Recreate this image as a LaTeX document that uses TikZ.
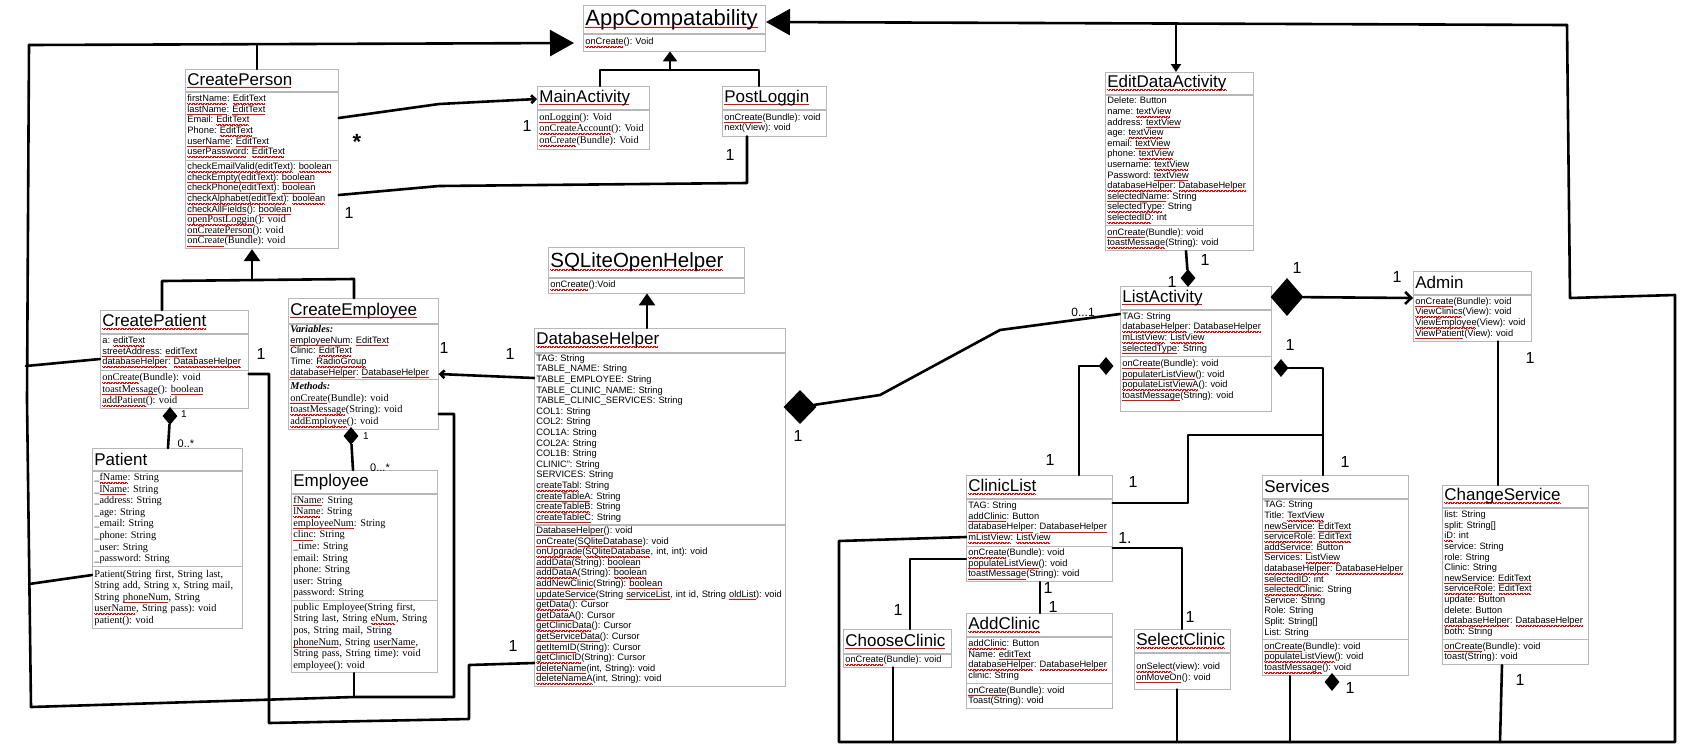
\documentclass[tikz,border=0pt]{standalone}
\usepackage{fontspec}
\setmainfont{Liberation Sans}
\newfontfamily\tms{Liberation Serif}
\usepackage{xcolor}
\usetikzlibrary{positioning}
\usetikzlibrary{shapes.geometric}
\usetikzlibrary{arrows.meta}
\frenchspacing
% red spell-check marks under words
\newsavebox\sqbox
\newcommand\sq[1]{\leavevmode\sbox\sqbox{#1}\rlap{\textcolor{red}{\hbox to \wd\sqbox{\leaders\hbox to 1.4pt{\rule[-2.0pt]{0.7pt}{0.45pt}\rule[-2.5pt]{0.7pt}{0.45pt}}\hfill}}}\usebox\sqbox}
\newcommand\tm[1]{{\tms\fontsize{10.3}{10.6}\selectfont #1}}

\begin{document}
\begin{tikzpicture}[x=1pt,y=-1pt]
	\tikzstyle{ttl}=[draw=black!28,fill=white,line width=0.7pt,anchor=north west,align=left,inner xsep=2pt,inner ysep=0pt,font=\fontsize{17}{18}\selectfont]
	\tikzstyle{prt}=[draw=black!28,fill=white,line width=0.7pt,align=left,inner xsep=2pt,inner ysep=1.5pt,font=\fontsize{9.3}{10.6}\selectfont]
	\tikzstyle{tprt}=[prt,font=\tms\fontsize{10.3}{11.6}\selectfont]
	\tikzstyle{wire}=[line width=2.6pt,line cap=round,line join=round]
	\tikzstyle{dmd}=[diamond,fill=black,inner sep=0pt,minimum width=15pt,minimum height=18pt]
	\tikzstyle{bigdmd}=[dmd,minimum width=33pt,minimum height=38pt]
	\tikzstyle{num}=[font=\fontsize{16}{16}\selectfont,inner sep=0pt]
	\useasboundingbox[fill=white] (0,0) rectangle (1700,748);

	% top classes
	\node[ttl,text width=178pt,minimum height=28pt,font=\fontsize{22}{23}\selectfont] (appT) at (583,5) {\sq{AppCompatability}};
	\node[prt,text width=178pt,minimum height=17pt,below=0pt of appT] (appM) {\sq{onCreate}(): Void};

	\node[ttl,text width=108pt,minimum height=23pt] (mainT) at (537,86) {\sq{MainActivity}};
	\node[tprt,text width=108pt,minimum height=39pt,below=0pt of mainT] (mainM) {\sq{onLoggin}(): Void\\\sq{onCreateAccount}(): Void\\\sq{onCreate}(Bundle): Void};

	\node[ttl,text width=100pt,minimum height=23pt] (postT) at (722,86) {\sq{PostLoggin}};
	\node[prt,text width=100pt,minimum height=26pt,below=0pt of postT] (postM) {\sq{onCreate}(Bundle): void\\next(View): void};

	\node[ttl,text width=149pt,minimum height=22pt] (cperT) at (185,69) {\sq{CreatePerson}};
	\node[prt,text width=149pt,minimum height=68pt,below=0pt of cperT] (cperA) {\sq{firstName}: \sq{EditText}\\\sq{lastName}: \sq{EditText}\\Email: \sq{EditText}\\Phone: \sq{EditText}\\\sq{userName}: \sq{EditText}\\\sq{userPassword}: \sq{EditText}};
	\node[prt,text width=149pt,minimum height=88pt,below=0pt of cperA] (cperM) {\sq{checkEmailValid(editText)}: \sq{boolean}\\\sq{checkEmpty(editText)}: \sq{boolean}\\\sq{checkPhone(editText)}: \sq{boolean}\\\sq{checkAlphabet(editText)}: \sq{boolean}\\\sq{checkAllFields}(): \sq{boolean}\\\tm{\sq{openPostLoggin}(): void}\\\tm{\sq{onCreatePerson}(): void}\\\tm{\sq{onCreate}(Bundle): void}};

	% left classes
	\node[ttl,text width=144pt,minimum height=23pt] (cpatT) at (100,310) {\sq{CreatePatient}};
	\node[prt,text width=144pt,minimum height=36pt,below=0pt of cpatT] (cpatA) {a: \sq{editText}\\\sq{streetAddress}: \sq{editText}\\\sq{databaseHelper}: \sq{DatabaseHelper}};
	\node[tprt,text width=144pt,minimum height=38pt,below=0pt of cpatA] (cpatM) {\sq{onCreate}(Bundle): void\\\sq{toastMessage}(): \sq{boolean}\\\sq{addPatient}(): void};

	\node[ttl,text width=146pt,minimum height=25pt] (cempT) at (288,298) {\sq{CreateEmployee}};
	\node[prt,text width=146pt,minimum height=55pt,below=0pt of cempT] (cempA) {{\tms\bfseries\itshape\fontsize{10.3}{10.6}\selectfont Variables:}\\\sq{employeeNum}: \sq{EditText}\\Clinic: \sq{EditText}\\Time: \sq{RadioGroup}\\\sq{databaseHelper}: \sq{DatabaseHelper}};
	\node[tprt,text width=146pt,minimum height=50pt,below=0pt of cempA] (cempM) {\textbf{\textit{Methods:}}\\\sq{onCreate}(Bundle): void\\\sq{toastMessage}(String): void\\\sq{addEmployee}(): void};

	\node[ttl,text width=146pt,minimum height=22pt] (patT) at (92,448) {Patient};
	\node[tprt,text width=146pt,minimum height=95pt,below=0pt of patT] (patA) {\_\sq{fName}: String\\\_\sq{lName}: String\\\_address: String\\\_age: String\\\_email: String\\\_phone: String\\\_user: String\\\_password: String};
	\node[tprt,text width=146pt,minimum height=62pt,below=0pt of patA] (patM) {Patient(String first, String last,\\String add, String x, String mail,\\String \sq{phoneNum}, String\\\sq{userName}, String pass): void\\patient(): void};

	\node[ttl,text width=142pt,minimum height=23pt] (empT) at (291,470) {Employee};
	\node[tprt,text width=142pt,minimum height=106pt,below=0pt of empT] (empA) {\sq{fName}: String\\\sq{lName}: String\\\sq{employeeNum}: String\\\sq{clinc}: String\\\_time: String\\email: String\\phone: String\\user: String\\password: String};
	\node[tprt,text width=142pt,minimum height=72pt,below=0pt of empA] (empM) {public Employee(String first,\\String last, String \sq{eNum}, String\\pos, String mail, String\\\sq{phoneNum}, String \sq{userName},\\String pass, String time): void\\employee(): void};

	% database
	\node[ttl,text width=192pt,minimum height=30pt,font=\fontsize{20.5}{21}\selectfont] (sqlT) at (548,247) {\sq{SQLiteOpenHelper}};
	\node[prt,text width=192pt,minimum height=15pt,below=0pt of sqlT] (sqlM) {\sq{onCreate}():Void};

	\node[ttl,text width=247pt,minimum height=24pt] (dbhT) at (534,328) {\sq{DatabaseHelper}};
	\node[prt,text width=247pt,minimum height=171pt,below=0pt of dbhT] (dbhA) {TAG: String\\TABLE\_NAME: String\\TABLE\_EMPLOYEE: String\\TABLE\_CLINIC\_NAME: String\\TABLE\_CLINIC\_SERVICES: String\\COL1: String\\COL2: String\\COL1A: String\\COL2A: String\\COL1B: String\\CLINIC": String\\SERVICES: String\\\sq{createTabl}: String\\\sq{createTableA}: String\\\sq{createTableB}: String\\\sq{createTableC}: String};
	\node[prt,text width=247pt,minimum height=161pt,below=0pt of dbhA] (dbhM) {\sq{DatabaseHelper}(): void\\\sq{onCreate}(\sq{SQliteDatabase}): void\\\sq{onUpgrade}(\sq{SQliteDatabase}, int, int): void\\\sq{addData}(String): \sq{boolean}\\\sq{addDataA}(String): \sq{boolean}\\\sq{addNewClinic}(String): \sq{boolean}\\\sq{updateService}(String \sq{serviceList}, int id, String \sq{oldList}): void\\\sq{getData}(): Cursor\\\sq{getDataA}(): Cursor\\\sq{getClinicData}(): Cursor\\\sq{getServiceData}(): Cursor\\\sq{getItemID}(String): Cursor\\\sq{getClinicID}(String): Cursor\\\sq{deleteName}(int, String): void\\\sq{deleteNameA}(int, String): void};

	% right classes
	\node[ttl,text width=144pt,minimum height=22pt] (editT) at (1105,72) {\sq{EditDataActivity}};
	\node[prt,text width=144pt,minimum height=130pt,below=0pt of editT] (editA) {Delete: Button\\name: \sq{textView}\\address: \sq{textView}\\age: \sq{textView}\\email: \sq{textView}\\phone: \sq{textView}\\username: \sq{textView}\\Password: \sq{textView}\\\sq{databaseHelper}: \sq{DatabaseHelper}\\\sq{selectedName}: String\\\sq{selectedType}: String\\\sq{selectedID}: int};
	\node[prt,text width=144pt,minimum height=25pt,below=0pt of editA] (editM) {\sq{onCreate}(Bundle): void\\\sq{toastMessage}(String): void};

	\node[ttl,text width=147pt,minimum height=23pt] (listT) at (1120,286) {\sq{ListActivity}};
	\node[prt,text width=147pt,minimum height=46pt,below=0pt of listT] (listA) {TAG: String\\\sq{databaseHelper}: \sq{DatabaseHelper}\\\sq{mListView}: \sq{ListView}\\\sq{selectedType}: String};
	\node[prt,text width=147pt,minimum height=55pt,below=0pt of listA] (listM) {\sq{onCreate}(Bundle): void\\\sq{populaterListView}(): void\\\sq{populateListViewA}(): void\\\sq{toastMessage}(String): void\\\mbox{}};

	\node[ttl,text width=114pt,minimum height=23pt] (admT) at (1413,271) {Admin};
	\node[prt,text width=114pt,minimum height=46pt,below=0pt of admT] (admM) {\sq{onCreate}(Bundle): void\\\sq{ViewClinics}(View): void\\\sq{ViewEmployee}(View): void\\\sq{ViewPatient}(View): void};

	\node[ttl,text width=142pt,minimum height=23pt] (clinT) at (966,475) {\sq{ClinicList}};
	\node[prt,text width=142pt,minimum height=47pt,below=0pt of clinT] (clinA) {TAG: String\\\sq{addClinic}: Button\\\sq{databaseHelper}: \sq{DatabaseHelper}\\\sq{mListView}: \sq{ListView}};
	\node[prt,text width=142pt,minimum height=35pt,below=0pt of clinA] (clinM) {\sq{onCreate}(Bundle): void\\\sq{populateListView}(): void\\\sq{toastMessage}(String): void};

	\node[ttl,text width=104pt,minimum height=24pt] (chooseT) at (843,629) {\sq{ChooseClinic}};
	\node[prt,text width=104pt,minimum height=13pt,below=0pt of chooseT] (chooseM) {\sq{onCreate}(Bundle): void};

	\node[ttl,text width=142pt,minimum height=23pt] (addT) at (966,613) {\sq{AddClinic}};
	\node[prt,text width=142pt,minimum height=46pt,below=0pt of addT] (addA) {\sq{addClinic}: Button\\Name: \sq{editText}\\\sq{databaseHelper}: \sq{DatabaseHelper}\\clinic: String};
	\node[prt,text width=142pt,minimum height=25pt,below=0pt of addA] (addM) {\sq{onCreate}(Bundle): void\\Toast(String): void};

	\node[ttl,text width=92pt,minimum height=23pt] (selT) at (1134,629) {\sq{SelectClinic}};
	\node[prt,text width=92pt,minimum height=36pt,below=0pt of selT] (selM) {\mbox{}\\\sq{onSelect}(view): void\\\sq{onMoveOn}(): void};

	\node[ttl,text width=142pt,minimum height=23pt] (servT) at (1262,475) {Services};
	\node[prt,text width=142pt,minimum height=140pt,below=0pt of servT] (servA) {TAG: String\\Title: \sq{TextView}\\\sq{newService}: \sq{EditText}\\\sq{serviceRole}: \sq{EditText}\\\sq{addService}: Button\\Services: \sq{ListView}\\\sq{databaseHelper}: \sq{DatabaseHelper}\\\sq{selectedID}: int\\\sq{selectedClinic}: String\\Service: String\\Role: String\\Split: String[]\\List: String};
	\node[prt,text width=142pt,minimum height=36pt,below=0pt of servA] (servM) {\sq{onCreate}(Bundle): void\\\sq{populateListView}(): void\\\sq{toastMessage}(): void};

	\node[ttl,text width=142pt,minimum height=22pt] (chgT) at (1442,485) {\sq{ChangeService}};
	\node[prt,text width=142pt,minimum height=131pt,below=0pt of chgT] (chgA) {list: String\\split: String[]\\\sq{iD}: int\\service: String\\role: String\\Clinic: String\\\sq{newService}: \sq{EditText}\\\sq{serviceRole}: \sq{EditText}\\update: Button\\delete: Button\\\sq{databaseHelper}: \sq{DatabaseHelper}\\both: String};
	\node[prt,text width=142pt,minimum height=25pt,below=0pt of chgA] (chgM) {\sq{onCreate}(Bundle): void\\toast(String): void};

	% connectors, left half
	\coordinate (lt) at (29,45);
	\coordinate (lb) at (31,707);
	\coordinate (appL) at (574,43);
	\draw[wire,-{Triangle[width=26pt,length=24pt]}] (lt) -- (appL);
	\draw[wire] (lt) -- (27,400) -- (lb) -- (354,697) -- (454,697) -- (454,414) -- (cempM.east|-0,414);
	\draw[wire] (26,366) -- (cpatA.west|-0,359);
	\draw[wire] (29,584) -- (patM.west|-0,575);
	\draw[wire] (empM.south-|354,0) -- (354,697);
	\draw[wire] (cperT.north-|257,0) -- (257,45);
	\draw[wire,-{Straight Barb[length=4pt,width=8pt]}] (cperA.east|-0,118) -- (439,104) -- (mainT.west|-0,99);
	\draw[wire] (cperM.east|-0,195) -- (439,186) -- (747,183) -- (postM.south-|747,0);
	\draw[wire] (mainT.north-|600,0) -- (600,70) -- (759,70) -- (postT.north-|759,0);
	\draw[wire,-{Triangle[width=14pt,length=10pt]}] (670,70) -- (appM.south-|670,0);
	\draw[wire,-{Triangle[width=16pt,length=12pt]}] (252,280) -- (cperM.south-|252,0);
	\draw[wire] (cpatT.north-|162,0) -- (162,281) -- (354,279) -- (cempT.north-|354,0);
	\node[dmd] (d1) at (170,416) {};
	\draw[wire] (d1) -- (patT.north-|168,0);
	\node[dmd] (d2) at (351,436) {};
	\draw[wire] (d2) -- (empT.north-|353,0);
	\draw[wire] (cpatM.east|-0,374) -- (269,374) -- (269,723) -- (469,719) -- (469,665) -- (dbhM.west|-0,663);
	\draw[wire,-{Straight Barb[length=4pt,width=8pt]}] (dbhA.west|-0,378) -- (cempA.east|-0,374);
	\draw[wire,-{Triangle[width=16pt,length=12pt]}] (dbhT.north-|647,0) -- (sqlM.south-|647,0);
	\node[num] at (527,126) {1};
	\node[num,font=\fontsize{22}{22}\selectfont\bfseries] at (357,142) {*};
	\node[num] at (349,213) {1};
	\node[num] at (730,155) {1};
	\node[num] at (261,354) {1};
	\node[num] at (444,348) {1};
	\node[num] at (510,354) {1};
	\node[num,font=\fontsize{10}{10}\selectfont] at (184,414) {1};
	\node[num,font=\fontsize{11}{11}\selectfont] at (186,444) {0..*};
	\node[num,font=\fontsize{10}{10}\selectfont] at (366,436) {1};
	\node[num,font=\fontsize{11}{11}\selectfont] at (380,468) {0...*};
	\node[num] at (513,646) {1};

	% connectors, right half
	\coordinate (rt) at (1567,25);
	\coordinate (appR) at (766,22);
	\draw[wire,-{Triangle[width=26pt,length=24pt]}] (rt) -- (appR);
	\draw[wire,-{Triangle[width=10pt,length=8pt]}] (1176,25) -- (editT.north-|1176,0);
	\draw[wire] (rt) -- (1570,298) -- (1675,295) -- (1675,742) -- (839,742) -- (839,541) -- (clinA.west|-0,537);
	\node[bigdmd,minimum height=34pt] (d3) at (800,407) {};
	\draw[wire] (d3) -- (880,395) -- (1000,330) -- (listA.west|-0,314);
	\node[num] at (798,436) {1};
	\node[dmd] (d4) at (1188,278) {};
	\draw[wire] (editM.south-|1186,0) -- (d4);
	\node[bigdmd] (d5) at (1287,297) {};
	\draw[wire,-{Straight Barb[length=6pt,width=12pt]}] (d5) -- (admM.west|-0,298);
	\node[dmd] (d6) at (1281,368) {};
	\draw[wire] (d6) -- (1323,368) -- (servT.north-|1323,0);
	\node[dmd] (d7) at (1106,366) {};
	\draw[wire] (d7) -- (1079,366) -- (clinT.north-|1079,0);
	\draw[wire] (clinA.east|-0,503) -- (1188,503) -- (1188,435) -- (1323,435);
	\draw[wire] (clinM.east|-0,548) -- (1182,548) -- (selT.north-|1182,0);
	\draw[wire] (clinM.south-|1040,0) -- (addT.north-|1040,0);
	\draw[wire] (chooseT.north-|910,0) -- (910,559) -- (clinM.west|-0,559);
	\draw[wire] (chooseM.south-|893,0) -- (893,742);
	\draw[wire] (selM.south-|1177,0) -- (1177,742);
	\draw[wire] (servM.south-|1290,0) -- (1290,742);
	\node[dmd] (d8) at (1332,682) {};
	\draw[wire] (chgM.south-|1502,0) -- (1500,742);
	\draw[wire] (admM.south-|1498,0) -- (chgT.north-|1498,0);
	\node[num,font=\fontsize{12}{12}\selectfont] at (1083,312) {0...1};
	\node[num] at (1205,260) {1};
	\node[num] at (1172,282) {1};
	\node[num] at (1297,268) {1};
	\node[num] at (1397,277) {1};
	\node[num] at (1290,345) {1};
	\node[num] at (1345,462) {1};
	\node[num] at (1050,460) {1};
	\node[num] at (1133,482) {1};
	\node[num] at (1125,538) {1.};
	\node[num] at (1190,617) {1};
	\node[num] at (898,610) {1};
	\node[num] at (1048,588) {1};
	\node[num] at (1053,607) {1};
	\node[num] at (1530,358) {1};
	\node[num] at (1350,688) {1};
	\node[num] at (1520,680) {1};
\end{tikzpicture}
\end{document}
